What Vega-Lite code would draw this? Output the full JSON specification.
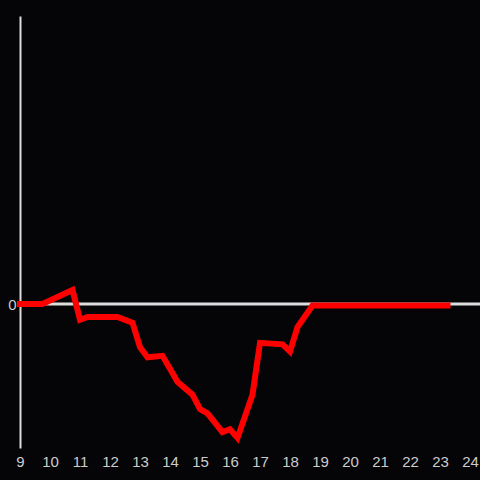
{
  "$schema": "https://vega.github.io/schema/vega-lite/v6.json",
  "width": 460,
  "height": 432,
  "autosize": {"type": "none"},
  "padding": {"left": 20, "top": 16, "right": 0, "bottom": 32},
  "background": "#050407",
  "config": {"view": {"stroke": null}, "font": "Liberation Sans"},
  "data": {"values": [
    {"t": 9, "v": 0},
    {"t": 9.75, "v": 0},
    {"t": 10.75, "v": 0.097},
    {"t": 11, "v": -0.11},
    {"t": 11.25, "v": -0.09},
    {"t": 12.25, "v": -0.09},
    {"t": 12.75, "v": -0.13},
    {"t": 13, "v": -0.3},
    {"t": 13.25, "v": -0.37},
    {"t": 13.75, "v": -0.36},
    {"t": 14.25, "v": -0.54},
    {"t": 14.75, "v": -0.63},
    {"t": 15, "v": -0.73},
    {"t": 15.25, "v": -0.76},
    {"t": 15.75, "v": -0.89},
    {"t": 16, "v": -0.87},
    {"t": 16.25, "v": -0.93},
    {"t": 16.75, "v": -0.63},
    {"t": 17, "v": -0.27},
    {"t": 17.75, "v": -0.28},
    {"t": 18, "v": -0.33},
    {"t": 18.25, "v": -0.16},
    {"t": 18.75, "v": -0.01},
    {"t": 23.25, "v": -0.01}
  ]},
  "layer": [
    {
      "mark": {"type": "rule", "color": "#dddddd", "strokeWidth": 3},
      "data": {"values": [{"z": 0}]},
      "encoding": {"y": {"field": "z", "type": "quantitative", "scale": {"domain": [-1, 2]}}}
    },
    {
      "mark": {"type": "line", "color": "#ff0000", "strokeWidth": 6, "strokeCap": "square", "strokeJoin": "miter"},
      "encoding": {
        "x": {"field": "t", "type": "quantitative",
          "scale": {"domain": [9, 24.3333], "nice": false, "zero": false},
          "axis": {"title": null, "values": [9,10,11,12,13,14,15,16,17,18,19,20,21,22,23,24], "format": "d", "domain": false, "ticks": false, "grid": false, "labelColor": "#cccccc", "labelFontSize": 15, "labelPadding": 6, "labelFlush": false}},
        "y": {"field": "v", "type": "quantitative",
          "scale": {"domain": [-1, 2], "nice": false},
          "axis": {"title": null, "values": [0], "format": "d", "domain": true, "domainColor": "#dddddd", "domainWidth": 2, "ticks": false, "grid": false, "labelColor": "#cccccc", "labelFontSize": 15, "labelPadding": 4}}
      }
    }
  ]
}
